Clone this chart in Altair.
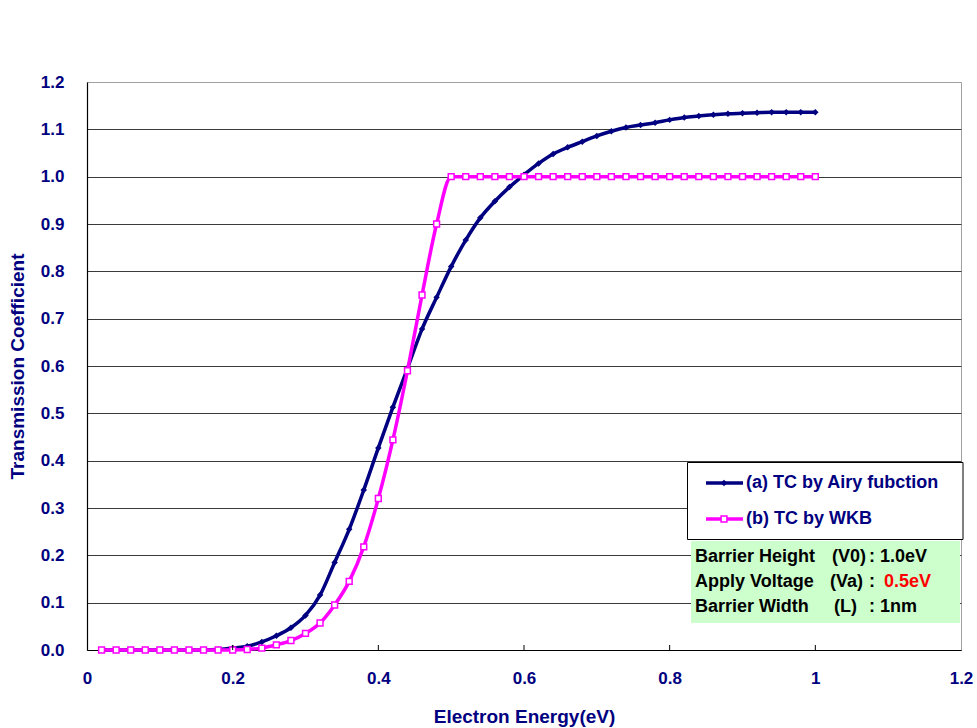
import altair as alt
import pandas as pd

# ---------------- data ----------------
energy = [0.02, 0.04, 0.06, 0.08, 0.10, 0.12, 0.14, 0.16, 0.18, 0.20,
          0.22, 0.24, 0.26, 0.28, 0.30, 0.32, 0.34, 0.36, 0.38, 0.40,
          0.42, 0.44, 0.46, 0.48, 0.50, 0.52, 0.54, 0.56, 0.58, 0.60,
          0.62, 0.64, 0.66, 0.68, 0.70, 0.72, 0.74, 0.76, 0.78, 0.80,
          0.82, 0.84, 0.86, 0.88, 0.90, 0.92, 0.94, 0.96, 0.98, 1.00]

tc_airy = [0.0, 0.0, 0.0, 0.0, 0.0, 0.0, 0.0, 0.0, 0.001, 0.004,
           0.008, 0.017, 0.030, 0.047, 0.073, 0.116, 0.185, 0.255, 0.338, 0.427,
           0.513, 0.595, 0.678, 0.745, 0.810, 0.866, 0.913, 0.948, 0.978, 1.004,
           1.028, 1.048, 1.062, 1.074, 1.086, 1.096, 1.104, 1.109, 1.114, 1.120,
           1.125, 1.128, 1.131, 1.133, 1.134, 1.135, 1.136, 1.136, 1.136, 1.136]

tc_wkb = [0.0, 0.0, 0.0, 0.0, 0.0, 0.0, 0.0, 0.0, 0.0, 0.0,
          0.001, 0.004, 0.011, 0.020, 0.035, 0.057, 0.095, 0.145, 0.218, 0.320,
          0.444, 0.590, 0.750, 0.900, 1.0, 1.0, 1.0, 1.0, 1.0, 1.0,
          1.0, 1.0, 1.0, 1.0, 1.0, 1.0, 1.0, 1.0, 1.0, 1.0,
          1.0, 1.0, 1.0, 1.0, 1.0, 1.0, 1.0, 1.0, 1.0, 1.0]

series_names = ["(a) TC by Airy fubction", "(b) TC by WKB"]
x_tick_values = [0, 0.2, 0.4, 0.6, 0.8, 1.0, 1.2]
x_inner_ticks = [0.2, 0.4, 0.6, 0.8, 1.0]
y_tick_values = [0.0, 0.1, 0.2, 0.3, 0.4, 0.5, 0.6, 0.7, 0.8, 0.9, 1.0, 1.1, 1.2]

info_labels = ["Barrier Height", "Apply Voltage", "Barrier Width"]
info_symbols = ["(V0)", "(Va)", "(L)"]
info_values = [": 1.0eV", ":", ": 1nm"]
info_red_value = "0.5eV"

# ---------------- style ----------------
NAVY = "#000080"
MAG = "#FF00FF"
FONT = "Liberation Sans"
W, H = 874, 568

df = pd.DataFrame({"energy": energy, "airy": tc_airy, "wkb": tc_wkb})
dummy = pd.DataFrame({"a": [0]})

xs = alt.Scale(domain=[0, 1.2], nice=False, zero=False)
ys = alt.Scale(domain=[0, 1.2], nice=False, zero=False)

x_axis = alt.Axis(values=x_tick_values, format="~g", grid=False, ticks=False,
                  labelFlush=False, labelOverlap=False,
                  domainColor="black", domainWidth=1.2,
                  labelFont=FONT, labelFontSize=17, labelFontWeight="bold",
                  labelColor=NAVY, labelPadding=20,
                  titleFont=FONT, titleFontSize=19, titleFontWeight="bold",
                  titleColor=NAVY, titlePadding=21)
y_axis = alt.Axis(values=y_tick_values, format=".1f", grid=True,
                  labelFlush=False, labelOverlap=False,
                  gridColor={"condition": {"test": "datum.value >= 1.15", "value": "#a0a0a0"},
                             "value": "#3a3a3a"},
                  gridWidth=1, ticks=False,
                  domainColor="black", domainWidth=1.2,
                  labelFont=FONT, labelFontSize=17, labelFontWeight="bold",
                  labelColor=NAVY, labelPadding=23,
                  titleFont=FONT, titleFontSize=19, titleFontWeight="bold",
                  titleColor=NAVY, titlePadding=13)

X_TITLE = "Electron Energy(eV)"
Y_TITLE = "Transmission Coefficient"


def xenc(field):
    return alt.X(f"{field}:Q", scale=xs, axis=x_axis, title=X_TITLE)


def yenc(field):
    return alt.Y(f"{field}:Q", scale=ys, axis=y_axis, title=Y_TITLE)


base = alt.Chart(df)

airy_line = base.mark_line(color=NAVY, strokeWidth=3.5, interpolate="monotone").encode(
    x=xenc("energy"), y=yenc("airy"))
airy_pts = base.mark_point(shape="diamond", filled=True, color=NAVY, size=42, opacity=1).encode(
    x=xenc("energy"), y=yenc("airy"))
wkb_line = base.mark_line(color=MAG, strokeWidth=3.5, interpolate="monotone").encode(
    x=xenc("energy"), y=yenc("wkb"))
wkb_pts = base.mark_square(size=34, fill="white", stroke=MAG, strokeWidth=1.5, opacity=1).encode(
    x=xenc("energy"), y=yenc("wkb"))

inner_ticks = alt.Chart(pd.DataFrame({"t": x_inner_ticks})).mark_rule(
    color="black", strokeWidth=1).encode(
    x=xenc("t"), y=alt.value(H - 5), y2=alt.value(H))


def box(x1, x2, y1, y2, fill, stroke=None):
    kw = dict(fill=fill)
    if stroke:
        kw.update(stroke=stroke, strokeWidth=1)
    return alt.Chart(dummy).mark_rect(**kw).encode(
        x=alt.value(x1), x2=alt.value(x2), y=alt.value(y1), y2=alt.value(y2))


def txt(s, x, y, color, size=18):
    return alt.Chart(dummy).mark_text(
        text=s, align="left", baseline="middle", font=FONT, fontSize=size,
        fontWeight="bold", color=color).encode(x=alt.value(x), y=alt.value(y))


legend_box = box(600.5, 876, 380.5, 457.5, "white", "black")
info_box = box(604, 873, 459, 541, "#CCFFCC")

leg1_y, leg2_y = 401, 437
leg_line1 = alt.Chart(dummy).mark_rule(color=NAVY, strokeWidth=3.5).encode(
    x=alt.value(619), x2=alt.value(656), y=alt.value(leg1_y))
leg_pt1 = alt.Chart(dummy).mark_point(shape="diamond", filled=True, color=NAVY,
                                       size=42, opacity=1).encode(
    x=alt.value(637), y=alt.value(leg1_y))
leg_line2 = alt.Chart(dummy).mark_rule(color=MAG, strokeWidth=3.5).encode(
    x=alt.value(619), x2=alt.value(656), y=alt.value(leg2_y))
leg_pt2 = alt.Chart(dummy).mark_square(size=34, fill="white", stroke=MAG,
                                        strokeWidth=1.5, opacity=1).encode(
    x=alt.value(637), y=alt.value(leg2_y))
leg_txt1 = txt(series_names[0], 659, leg1_y, NAVY, 18)
leg_txt2 = txt(series_names[1], 659, leg2_y, NAVY, 18)

row_y = [475, 500, 525]
info_layers = []
sym_x = [745, 743, 747]
for i in range(3):
    info_layers.append(txt(info_labels[i], 608, row_y[i], "black", 18))
    info_layers.append(txt(info_symbols[i], sym_x[i], row_y[i], "black", 18))
    info_layers.append(txt(info_values[i], 782, row_y[i], "black", 18))
info_layers.append(txt(info_red_value, 797, row_y[1], "#FF0000", 18))

chart = alt.layer(
    airy_line, airy_pts, wkb_line, wkb_pts, inner_ticks,
    legend_box, leg_line1, leg_pt1, leg_line2, leg_pt2, leg_txt1, leg_txt2,
    info_box, *info_layers
).properties(
    width=W, height=H,
    padding={"left": 87, "top": 82, "right": 16, "bottom": 78},
    autosize=alt.AutoSizeParams(type="none"),
    background="white",
).configure_view(stroke="#a0a0a0", strokeWidth=1)

chart.save("out.html", embed_options={"renderer": "svg", "actions": False})
